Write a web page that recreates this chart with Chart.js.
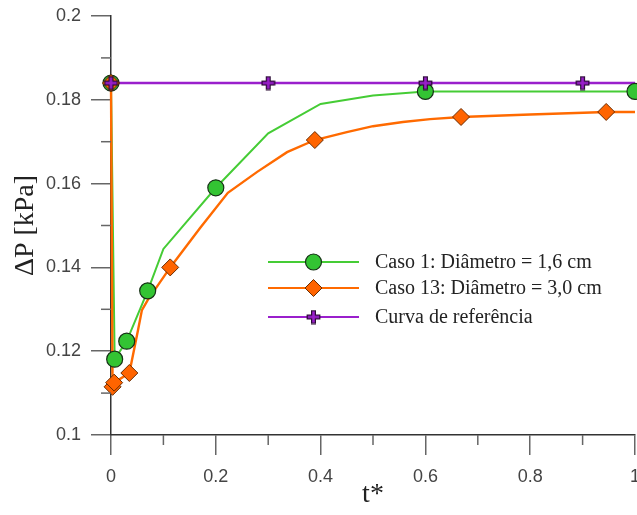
<!DOCTYPE html>
<html>
<head>
<meta charset="utf-8">
<script src="https://cdn.jsdelivr.net/npm/chart.js@4/dist/chart.umd.min.js"></script>
<style>
  html, body { margin: 0; padding: 0; background: #fff; }
  #grafico { display: block; }
</style>
</head>
<body>
<canvas id="grafico" width="637" height="515"></canvas>
<script>
// Caso 1 (diâmetro 1,6 cm): curva e marcadores
const caso1X = [0, 0.007, 0.03, 0.07, 0.1, 0.2, 0.3, 0.4, 0.5, 0.6, 1];
const caso1Y = [0.184, 0.1181, 0.1224, 0.1344, 0.1444, 0.159, 0.172, 0.179, 0.181, 0.182, 0.182];
const caso1MarcX = [0, 0.007, 0.03, 0.07, 0.2, 0.6, 1];
const caso1MarcY = [0.184, 0.1181, 0.1224, 0.1344, 0.159, 0.182, 0.182];

// Caso 13 (diâmetro 3,0 cm)
const caso13X = [0, 0.003, 0.006, 0.035, 0.0515, 0.059, 0.07, 0.113, 0.17, 0.223, 0.279, 0.336,
    0.389, 0.45, 0.5, 0.557, 0.609, 0.668, 0.8, 0.945, 1];
const caso13Y = [0.184, 0.1115, 0.1125, 0.1148, 0.125, 0.1298, 0.1322, 0.140, 0.1494, 0.1578, 0.1628, 0.1675,
    0.1704, 0.1723, 0.1737, 0.1747, 0.1754, 0.1759, 0.1765, 0.1771, 0.1771];
const caso13MarcX = [0, 0.003, 0.006, 0.035, 0.113, 0.389, 0.668, 0.945];
const caso13MarcY = [0.184, 0.1115, 0.1125, 0.1148, 0.140, 0.1704, 0.1759, 0.1771];

// Curva de referência
const refX = [0, 1];
const refY = [0.184, 0.184];
const refMarcX = [0, 0.3, 0.6, 0.9];
const refMarcY = [0.184, 0.184, 0.184, 0.184];

const ticksX = [0, 0.2, 0.4, 0.6, 0.8, 1];
const ticksY = [0.1, 0.12, 0.14, 0.16, 0.18, 0.2];

const legendas = [
    "Caso 1: Diâmetro = 1,6 cm",
    "Caso 13: Diâmetro = 3,0 cm",
    "Curva de referência"
];

const VERDE = "#45cc35";
const VERDE_FILL = "#33c433";
const LARANJA = "#ff6a00";
const LARANJA_FILL = "#ff6400";
const ROXO = "#9a1fcc";

const pontos = (xs, ys) => xs.map((x, i) => ({ x, y: ys[i] }));

// cruz grossa com contorno
function criarCruz() {
    const c = document.createElement("canvas");
    c.width = 15; c.height = 15;
    const g = c.getContext("2d");
    const a = 7.5, t = 1.9, L = 6.3;
    g.beginPath();
    g.moveTo(a - t, a - L); g.lineTo(a + t, a - L); g.lineTo(a + t, a - t);
    g.lineTo(a + L, a - t); g.lineTo(a + L, a + t); g.lineTo(a + t, a + t);
    g.lineTo(a + t, a + L); g.lineTo(a - t, a + L); g.lineTo(a - t, a + t);
    g.lineTo(a - L, a + t); g.lineTo(a - L, a - t); g.lineTo(a - t, a - t);
    g.closePath();
    g.fillStyle = ROXO;
    g.fill();
    g.lineWidth = 1.2;
    g.strokeStyle = "#2a0a33";
    g.stroke();
    return c;
}
const cruz = criarCruz();

function desenharMarcador(ctx, tipo, x, y) {
    ctx.save();
    if (tipo === "circulo") {
        ctx.beginPath();
        ctx.arc(x, y, 8, 0, Math.PI * 2);
        ctx.fillStyle = VERDE_FILL;
        ctx.fill();
        ctx.lineWidth = 1.2;
        ctx.strokeStyle = "#163016";
        ctx.stroke();
    } else if (tipo === "losango") {
        ctx.beginPath();
        ctx.moveTo(x, y - 8.5); ctx.lineTo(x + 8.5, y); ctx.lineTo(x, y + 8.5); ctx.lineTo(x - 8.5, y);
        ctx.closePath();
        ctx.fillStyle = LARANJA_FILL;
        ctx.fill();
        ctx.lineWidth = 1;
        ctx.strokeStyle = "#6a2c00";
        ctx.stroke();
    } else {
        ctx.drawImage(cruz, x - cruz.width / 2, y - cruz.height / 2);
    }
    ctx.restore();
}

const legendaPlugin = {
    id: "legendaPlugin",
    afterDraw(chart) {
        const ctx = chart.ctx;
        const x0 = 268, x1 = 359, xt = 375;
        const linhas = [262, 288, 317];
        const cores = [VERDE, LARANJA, ROXO];
        const tipos = ["circulo", "losango", "cruz"];
        ctx.save();
        linhas.forEach((y, i) => {
            ctx.beginPath();
            ctx.moveTo(x0, y);
            ctx.lineTo(x1, y);
            ctx.lineWidth = 2;
            ctx.strokeStyle = cores[i];
            ctx.stroke();
            desenharMarcador(ctx, tipos[i], (x0 + x1) / 2, y);
            ctx.fillStyle = "#222";
            ctx.font = "20px 'Liberation Serif', 'Times New Roman', serif";
            ctx.textBaseline = "middle";
            ctx.textAlign = "left";
            ctx.fillText(legendas[i], xt, y + 1);
        });
        ctx.restore();
    }
};

// marcas menores nos eixos
const marcasMenores = {
    id: "marcasMenores",
    afterDraw(chart) {
        const { ctx, chartArea, scales } = chart;
        ctx.save();
        ctx.strokeStyle = "#666";
        ctx.lineWidth = 1.5;
        for (let i = 0; i < ticksX.length - 1; i++) {
            const px = scales.x.getPixelForValue((ticksX[i] + ticksX[i + 1]) / 2);
            ctx.beginPath();
            ctx.moveTo(px, chartArea.bottom);
            ctx.lineTo(px, chartArea.bottom + 10);
            ctx.stroke();
        }
        for (let i = 0; i < ticksY.length - 1; i++) {
            const py = scales.y.getPixelForValue((ticksY[i] + ticksY[i + 1]) / 2);
            ctx.beginPath();
            ctx.moveTo(chartArea.left, py);
            ctx.lineTo(chartArea.left - 10, py);
            ctx.stroke();
        }
        ctx.restore();
    }
};

const fonteTicks = { family: "'Liberation Sans', Arial, sans-serif", size: 18 };
const fonteTitulo = { family: "'Liberation Serif', 'Times New Roman', serif", size: 28 };

new Chart(document.getElementById("grafico"), {
    type: "scatter",
    data: {
        datasets: [
            {
                data: pontos(refMarcX, refMarcY),
                showLine: false,
                pointStyle: cruz,
                clip: false,
                order: 0
            },
            {
                data: pontos(caso13MarcX, caso13MarcY),
                showLine: false,
                pointStyle: "rectRot",
                pointRadius: 8.5,
                backgroundColor: LARANJA_FILL,
                borderColor: "#6a2c00",
                borderWidth: 1,
                clip: false,
                order: 1
            },
            {
                data: pontos(caso1MarcX, caso1MarcY),
                showLine: false,
                pointStyle: "circle",
                pointRadius: 8,
                backgroundColor: VERDE_FILL,
                borderColor: "#163016",
                borderWidth: 1.2,
                clip: false,
                order: 2
            },
            {
                data: pontos(refX, refY),
                showLine: true,
                pointRadius: 0,
                borderColor: ROXO,
                borderWidth: 2.5,
                clip: false,
                order: 3
            },
            {
                data: pontos(caso13X, caso13Y),
                showLine: true,
                pointRadius: 0,
                borderColor: LARANJA,
                borderWidth: 2.4,
                clip: false,
                order: 4
            },
            {
                data: pontos(caso1X, caso1Y),
                showLine: true,
                pointRadius: 0,
                borderColor: VERDE,
                borderWidth: 2,
                clip: false,
                order: 5
            }
        ]
    },
    options: {
        responsive: false,
        animation: false,
        layout: { autoPadding: false, padding: { top: 16, right: 2, left: 0, bottom: 0 } },
        plugins: {
            legend: { display: false },
            tooltip: { enabled: false }
        },
        elements: { point: { hoverRadius: 0 } },
        scales: {
            x: {
                type: "linear",
                min: 0,
                max: 1,
                afterBuildTicks: s => { s.ticks = ticksX.map(v => ({ value: v })); },
                afterFit: s => { s.height = 80; s.paddingLeft = 0; s.paddingRight = 0; },
                ticks: {
                    font: fonteTicks,
                    color: "#444",
                    padding: 11,
                    maxRotation: 0,
                    callback: v => String(Number(v.toFixed(2)))
                },
                grid: { drawOnChartArea: false, tickLength: 20, color: "#666", lineWidth: 1.5 },
                border: { color: "#333", width: 1.5 },
                title: { display: true, text: "t*", font: fonteTitulo, color: "#222", padding: { bottom: 4, top: 0 } }
            },
            y: {
                type: "linear",
                min: 0.1,
                max: 0.2,
                afterBuildTicks: s => { s.ticks = ticksY.map(v => ({ value: v })); },
                afterFit: s => { s.width = 111; s.paddingTop = 0; s.paddingBottom = 0; },
                ticks: {
                    font: fonteTicks,
                    color: "#444",
                    padding: 10,
                    callback: v => String(Number(v.toFixed(2)))
                },
                grid: { drawOnChartArea: false, tickLength: 20, color: "#666", lineWidth: 1.5 },
                border: { color: "#333", width: 1.5 },
                title: { display: true, text: "ΔP [kPa]", font: fonteTitulo, color: "#222", padding: { top: 9, bottom: 0 } }
            }
        }
    },
    plugins: [marcasMenores, legendaPlugin]
});
</script>
</body>
</html>
